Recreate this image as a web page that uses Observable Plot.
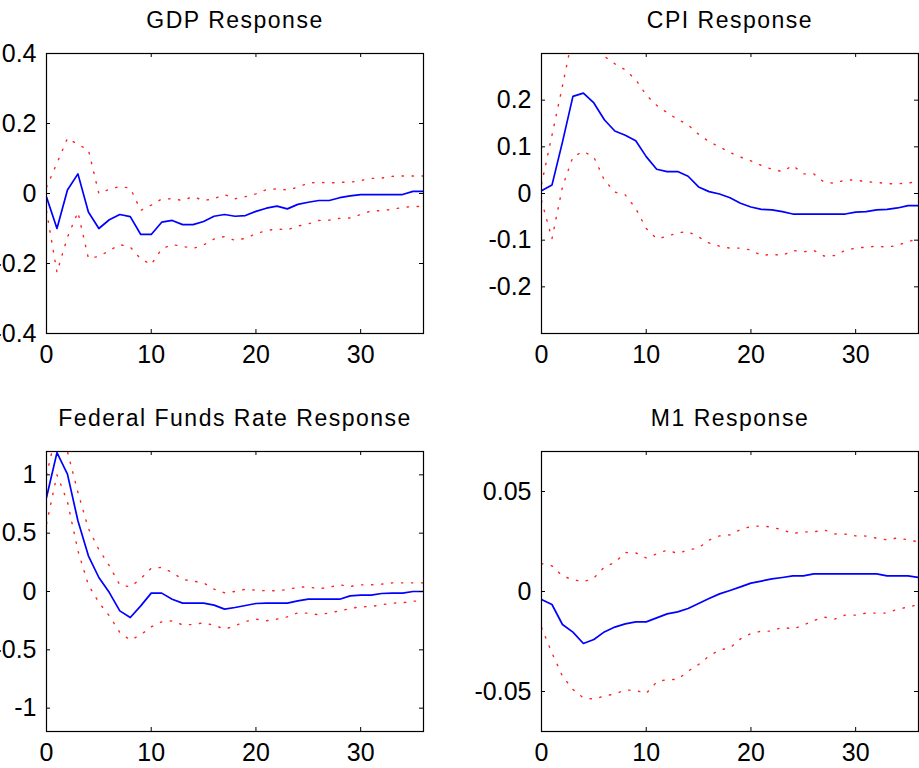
<!DOCTYPE html>
<html>
<head>
<meta charset="utf-8">
<script src="https://cdn.jsdelivr.net/npm/d3@7"></script>
<script src="https://cdn.jsdelivr.net/npm/@observablehq/plot@0.6"></script>
<style>
  html, body { margin: 0; padding: 0; background: #fff; overflow: hidden; }
  #wrap { position: relative; width: 919px; height: 768px; background: #fff; }
  .panel { position: absolute; }
  .panel svg g[aria-label="text"] text { letter-spacing: 1.5px; }
</style>
</head>
<body>
<div id="wrap"></div>
<script>
// ---- data ----
const periods = [0,1,2,3,4,5,6,7,8,9,10,11,12,13,14,15,16,17,18,19,20,21,22,23,24,25,26,27,28,29,30,31,32,33,34,35,36];
const xTicks = [0, 10, 20, 30];

const gdpTitle = "GDP Response";
const gdpMean  = [-0.01,-0.10,0.01,0.056,-0.053,-0.10,-0.075,-0.06,-0.066,-0.117,-0.117,-0.082,-0.077,-0.089,-0.089,-0.08,-0.065,-0.06,-0.065,-0.063,-0.051,-0.042,-0.036,-0.044,-0.031,-0.025,-0.02,-0.02,-0.012,-0.007,-0.003,-0.003,-0.003,-0.003,-0.003,0.006,0.006];
const gdpUpper = [0.018,0.087,0.158,0.14,0.125,0.0,0.012,0.02,0.015,-0.048,-0.033,-0.016,-0.015,-0.02,-0.009,-0.02,-0.015,-0.003,-0.015,-0.009,-0.001,0.011,0.013,0.01,0.018,0.03,0.032,0.03,0.032,0.032,0.037,0.043,0.044,0.049,0.05,0.05,0.05];
const gdpLower = [-0.05,-0.225,-0.125,-0.053,-0.185,-0.18,-0.163,-0.146,-0.153,-0.187,-0.203,-0.158,-0.146,-0.151,-0.157,-0.147,-0.13,-0.123,-0.134,-0.128,-0.115,-0.106,-0.101,-0.104,-0.093,-0.087,-0.077,-0.076,-0.071,-0.07,-0.06,-0.05,-0.049,-0.045,-0.04,-0.037,-0.037];
const gdpYDomain = [-0.4, 0.4];
const gdpYTicks = [-0.4, -0.2, 0, 0.2, 0.4];

const cpiTitle = "CPI Response";
const cpiMean  = [0.006,0.018,0.11,0.208,0.215,0.194,0.158,0.134,0.125,0.113,0.079,0.052,0.047,0.047,0.037,0.014,0.004,-0.001,-0.009,-0.021,-0.029,-0.034,-0.035,-0.039,-0.044,-0.044,-0.044,-0.044,-0.044,-0.044,-0.04,-0.039,-0.035,-0.034,-0.031,-0.026,-0.026];
const cpiUpper = [0.02,0.125,0.23,0.34,0.35,0.33,0.294,0.278,0.265,0.244,0.211,0.189,0.173,0.159,0.147,0.127,0.111,0.1,0.088,0.078,0.07,0.06,0.052,0.047,0.06,0.042,0.042,0.024,0.022,0.029,0.029,0.025,0.024,0.021,0.021,0.022,0.027];
const cpiLower = [-0.015,-0.097,0.014,0.079,0.09,0.078,0.029,0.003,-0.003,-0.032,-0.075,-0.097,-0.092,-0.084,-0.082,-0.093,-0.106,-0.113,-0.117,-0.117,-0.121,-0.133,-0.13,-0.133,-0.122,-0.125,-0.122,-0.134,-0.133,-0.122,-0.117,-0.115,-0.113,-0.115,-0.111,-0.103,-0.097];
const cpiYDomain = [-0.3, 0.3];
const cpiYTicks = [-0.2, -0.1, 0, 0.1, 0.2];

const ffrTitle = "Federal Funds Rate Response";
const ffrMean  = [0.806,1.19,1.006,0.606,0.306,0.12,-0.009,-0.166,-0.223,-0.123,-0.014,-0.014,-0.066,-0.1,-0.1,-0.1,-0.117,-0.151,-0.137,-0.12,-0.103,-0.1,-0.1,-0.1,-0.08,-0.066,-0.066,-0.066,-0.066,-0.037,-0.031,-0.031,-0.017,-0.014,-0.014,0.0,0.0];
const ffrUpper = [1.0,1.38,1.2,0.85,0.54,0.36,0.22,0.057,0.04,0.109,0.2,0.206,0.163,0.103,0.089,0.074,0.02,-0.011,0.0,0.02,0.011,0.006,0.006,0.017,0.037,0.04,0.023,0.037,0.057,0.043,0.057,0.057,0.063,0.074,0.074,0.074,0.074];
const ffrLower = [0.58,1.0,0.77,0.35,0.057,-0.094,-0.209,-0.35,-0.417,-0.371,-0.303,-0.26,-0.251,-0.286,-0.283,-0.269,-0.289,-0.323,-0.294,-0.257,-0.237,-0.251,-0.237,-0.217,-0.183,-0.186,-0.2,-0.183,-0.166,-0.146,-0.131,-0.129,-0.114,-0.1,-0.097,-0.083,-0.08];
const ffrYDomain = [-1.2, 1.2];
const ffrYTicks = [-1, -0.5, 0, 0.5, 1];

const m1Title = "M1 Response";
const m1Mean  = [-0.004,-0.0065,-0.0165,-0.0203,-0.026,-0.024,-0.0202,-0.0178,-0.0162,-0.0152,-0.0152,-0.0132,-0.0112,-0.0102,-0.0085,-0.006,-0.0035,-0.0012,0.0005,0.0023,0.0042,0.0052,0.0063,0.007,0.0078,0.0078,0.0088,0.0088,0.0088,0.0088,0.0088,0.0088,0.0088,0.0078,0.0078,0.0078,0.007];
const m1Upper = [0.014,0.0128,0.0077,0.006,0.0048,0.0068,0.0122,0.0145,0.0195,0.0193,0.0168,0.0188,0.0207,0.019,0.0208,0.0218,0.0257,0.0278,0.0283,0.031,0.0325,0.0328,0.0322,0.0308,0.029,0.0298,0.0298,0.0308,0.0288,0.0287,0.0278,0.0277,0.0267,0.0258,0.0268,0.0258,0.0248];
const m1Lower = [-0.018,-0.0307,-0.0423,-0.049,-0.0532,-0.0538,-0.0523,-0.0512,-0.0492,-0.0495,-0.051,-0.0452,-0.044,-0.044,-0.0398,-0.0365,-0.0323,-0.0292,-0.0282,-0.0237,-0.021,-0.0198,-0.0198,-0.0178,-0.0188,-0.0168,-0.0145,-0.0128,-0.0138,-0.0118,-0.0118,-0.0108,-0.0108,-0.0108,-0.0088,-0.0078,-0.0065];
const m1YDomain = [-0.07, 0.07];
const m1YTicks = [-0.05, 0, 0.05];

// ---- drawing ----
const PLOT_W = 377, PLOT_H = 280, TICK_PX = 4;
const xDomain = [0, 36];

function panel(cfg) {
  const rows = periods.map((t, i) => ({t, mean: cfg.mean[i], upper: cfg.upper[i], lower: cfg.lower[i]}));
  const width = cfg.marginLeft + PLOT_W + cfg.marginRight;
  const height = 53 + PLOT_H + cfg.marginBottom;
  const xLen = TICK_PX * (xDomain[1] - xDomain[0]) / PLOT_W;
  const yLen = TICK_PX * (cfg.yDomain[1] - cfg.yDomain[0]) / PLOT_H;
  const [y0, y1] = cfg.yDomain;
  const fmt = d => String(d);
  const chart = Plot.plot({
    width, height,
    marginTop: 53, marginLeft: cfg.marginLeft, marginRight: cfg.marginRight, marginBottom: cfg.marginBottom,
    style: {fontFamily: "'Liberation Sans', Arial, sans-serif", fontSize: "25px", background: "white", color: "black", overflow: "hidden"},
    x: {domain: xDomain, label: null},
    y: {domain: cfg.yDomain, label: null},
    marks: [
      Plot.line(rows, {x: "t", y: "upper", stroke: "#ff2020", strokeWidth: 1.4, strokeDasharray: "1.4,8.6", clip: true}),
      Plot.line(rows, {x: "t", y: "lower", stroke: "#ff2020", strokeWidth: 1.4, strokeDasharray: "1.4,8.6", clip: true}),
      Plot.line(rows, {x: "t", y: "mean", stroke: "#0000ff", strokeWidth: 1.7, clip: true}),
      Plot.frame({stroke: "#000", strokeWidth: 1.2}),
      // inward ticks on all four sides (MATLAB style)
      Plot.ruleY(cfg.yTicks, {y: d => d, x1: xDomain[0], x2: xDomain[0] + xLen, stroke: "#000"}),
      Plot.ruleY(cfg.yTicks, {y: d => d, x1: xDomain[1] - xLen, x2: xDomain[1], stroke: "#000"}),
      Plot.ruleX(xTicks, {x: d => d, y1: y0, y2: y0 + yLen, stroke: "#000"}),
      Plot.ruleX(xTicks, {x: d => d, y1: y1 - yLen, y2: y1, stroke: "#000"}),
      Plot.axisY({ticks: cfg.yTicks, tickSize: 0, tickPadding: 10, tickFormat: fmt, label: null}),
      Plot.axisX({ticks: xTicks, tickSize: 0, tickPadding: 12, tickFormat: fmt, label: null}),
      Plot.text([cfg.title], {text: d => d, frameAnchor: "top", dy: -26, lineAnchor: "bottom", fontSize: 23, fill: "#000"})
    ]
  });
  const div = document.createElement("div");
  div.className = "panel";
  div.style.left = cfg.left + "px";
  div.style.top = cfg.top + "px";
  div.appendChild(chart);
  document.getElementById("wrap").appendChild(div);
}

panel({title: gdpTitle, mean: gdpMean, upper: gdpUpper, lower: gdpLower, yDomain: gdpYDomain, yTicks: gdpYTicks,
       left: 0, top: 0, marginLeft: 46, marginRight: 24, marginBottom: 40});
panel({title: cpiTitle, mean: cpiMean, upper: cpiUpper, lower: cpiLower, yDomain: cpiYDomain, yTicks: cpiYTicks,
       left: 470, top: 0, marginLeft: 71, marginRight: 1, marginBottom: 40});
panel({title: ffrTitle, mean: ffrMean, upper: ffrUpper, lower: ffrLower, yDomain: ffrYDomain, yTicks: ffrYTicks,
       left: 0, top: 398, marginLeft: 46, marginRight: 24, marginBottom: 37});
panel({title: m1Title, mean: m1Mean, upper: m1Upper, lower: m1Lower, yDomain: m1YDomain, yTicks: m1YTicks,
       left: 470, top: 398, marginLeft: 71, marginRight: 1, marginBottom: 37});
</script>
</body>
</html>
